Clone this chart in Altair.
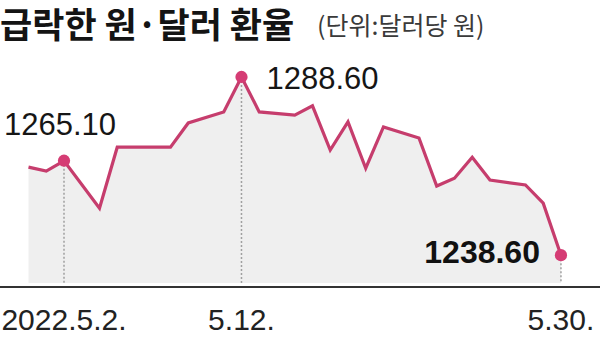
import altair as alt
import pandas as pd

# ---- data ----
dates = ["2022-04-30", "2022-05-01", "2022-05-02", "2022-05-04", "2022-05-05",
         "2022-05-08", "2022-05-09", "2022-05-11", "2022-05-12", "2022-05-13",
         "2022-05-15", "2022-05-16", "2022-05-17", "2022-05-18", "2022-05-19",
         "2022-05-20", "2022-05-22", "2022-05-23", "2022-05-24", "2022-05-25",
         "2022-05-26", "2022-05-28", "2022-05-29", "2022-05-30"]
rates = [1263.3, 1262.2, 1265.1, 1251.8, 1268.9,
         1268.9, 1275.7, 1278.8, 1288.6, 1278.8,
         1277.9, 1280.5, 1268.1, 1276.0, 1263.0,
         1274.6, 1271.5, 1258.0, 1260.2, 1266.1,
         1259.7, 1258.3, 1253.2, 1238.6]

key_dates = ["2022-05-02", "2022-05-12", "2022-05-30"]
key_labels = ["1265.10", "1288.60", "1238.60"]
tick_labels = ["2022.5.2.", "5.12.", "5.30."]

title_text = "급락한 원·달러 환율"
unit_text = "(단위:달러당 원)"

# ---- tables ----
origin = pd.Timestamp("2022-05-02")
df = pd.DataFrame({"date": pd.to_datetime(dates), "rate": rates})
df["day"] = (df["date"] - origin).dt.days

keys = df[df["date"].isin(pd.to_datetime(key_dates))].copy().reset_index(drop=True)
keys["label"] = key_labels
keys["tick"] = tick_labels

tdf = pd.DataFrame({"t": [title_text], "u": [unit_text]})

W, H = 600, 350
Y_DOMAIN = [1212.0, 1310.2]
BASELINE = 1230.8
NUM_FONT = "Liberation Sans, Arial, sans-serif"
KR_FONT = "Noto Sans CJK KR"
LINE = "#c63d6d"
DOT = "#d53c74"

x = alt.X("day:Q", scale=alt.Scale(domain=[-3.606, 30.2], nice=False, zero=False),
          axis=None)
y = alt.Y("rate:Q", scale=alt.Scale(domain=Y_DOMAIN, nice=False, zero=False),
          axis=None)

base = alt.Chart(df)
area = base.mark_area(color="#efefef").encode(x=x, y=y, y2=alt.datum(BASELINE))
line = base.mark_line(color=LINE, strokeWidth=3.2).encode(x=x, y=y)

kbase = alt.Chart(keys)
rules = kbase.mark_rule(color="#a0a0a0", strokeDash=[2, 2], strokeWidth=1.5).encode(
    x=alt.X("day:Q"), y=alt.Y("rate:Q"), y2=alt.datum(BASELINE))
dots = kbase.mark_circle(color=DOT, opacity=1, size=150).encode(
    x=alt.X("day:Q"), y=alt.Y("rate:Q"))

axis_line = alt.Chart(tdf).mark_rule(color="#333333", strokeWidth=2).encode(
    x=alt.value(0), x2=alt.value(600), y=alt.value(287))

ticks = kbase.mark_text(font=NUM_FONT, fontSize=30, color="#222222", align="center",
                        baseline="alphabetic").encode(
    x=alt.X("day:Q"), y=alt.value(330), text="tick:N")

lab1 = alt.Chart(keys.iloc[[0]]).mark_text(
    font=NUM_FONT, fontSize=31, color="#161616", align="center",
    baseline="alphabetic", dx=-4, dy=-26).encode(
    x=alt.X("day:Q"), y=alt.Y("rate:Q"), text="label:N")
lab2 = alt.Chart(keys.iloc[[1]]).mark_text(
    font=NUM_FONT, fontSize=31, color="#161616", align="left",
    baseline="alphabetic", dx=25, dy=12).encode(
    x=alt.X("day:Q"), y=alt.Y("rate:Q"), text="label:N")
lab3 = alt.Chart(keys.iloc[[2]]).mark_text(
    font=NUM_FONT, fontSize=32, fontWeight="bold", color="#111111", align="right",
    baseline="alphabetic", dx=-21, dy=8).encode(
    x=alt.X("day:Q"), y=alt.Y("rate:Q"), text="label:N")

title = alt.Chart(tdf).mark_text(
    font=KR_FONT, fontSize=35, fontWeight="bold", color="#141414",
    align="left", baseline="alphabetic").encode(
    x=alt.value(0), y=alt.value(38), text="t:N")
unit = alt.Chart(tdf).mark_text(
    font=KR_FONT, fontSize=25, color="#3a3a3a",
    align="left", baseline="alphabetic").encode(
    x=alt.value(317), y=alt.value(35), text="u:N")

chart = alt.layer(area, line, rules, axis_line, dots, lab1, lab2, lab3, ticks,
                  title, unit).properties(
    width=W, height=H,
    autosize=alt.AutoSizeParams(type="none"),
    padding={"left": 0, "top": 0, "right": 0, "bottom": 0},
    background="white",
).configure_view(stroke=None)

chart.save("out.html", embed_options={"renderer": "svg", "actions": False})
